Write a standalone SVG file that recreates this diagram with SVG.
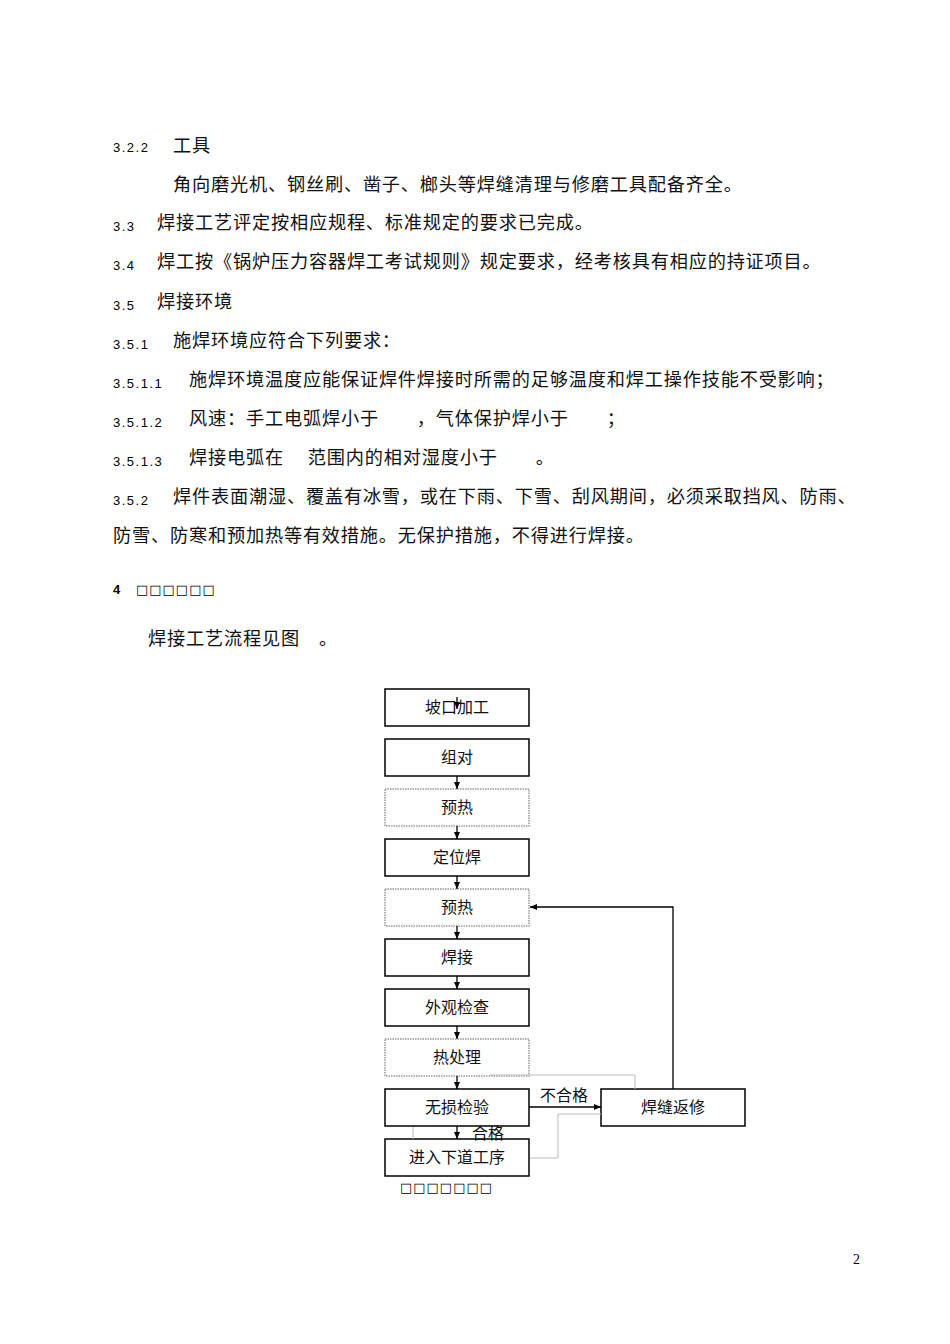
<svg xmlns="http://www.w3.org/2000/svg" width="950" height="1344" viewBox="0 0 950 1344">
<style>
.n{font-family:"Liberation Sans",sans-serif;font-size:13px;letter-spacing:1.5px}
.c{font-family:"Noto Sans CJK SC",sans-serif;font-size:18.2px;letter-spacing:0.8px;fill:#111}
.b{fill:#fff;stroke:#000;stroke-width:1.5}
.d{fill:#fff;stroke:#999;stroke-width:1.5;stroke-dasharray:1.5 1}
.t{font-family:"Noto Sans CJK SC",sans-serif;font-size:16px;text-anchor:middle;fill:#111}
.l{stroke:#000;stroke-width:1.3;fill:none}
.g{stroke:#bbb;stroke-width:1;fill:none}
</style>
<defs><marker id="a" markerWidth="8" markerHeight="8" refX="7" refY="4" orient="auto" markerUnits="userSpaceOnUse"><path d="M0,1 L7,4 L0,7 Z"/></marker></defs>
<rect width="950" height="1344" fill="#fff"/>
<text class="n" x="113" y="152">3.2.2</text><text class="c" x="173" y="152">工具</text>
<text class="c" x="173" y="191">角向磨光机、钢丝刷、凿子、榔头等焊缝清理与修磨工具配备齐全。</text>
<text class="n" x="113" y="231">3.3</text><text class="c" x="157" y="229">焊接工艺评定按相应规程、标准规定的要求已完成。</text>
<text class="n" x="113" y="270">3.4</text><text class="c" x="157" y="268">焊工按《锅炉压力容器焊工考试规则》规定要求，经考核具有相应的持证项目。</text>
<text class="n" x="113" y="310">3.5</text><text class="c" x="157" y="308">焊接环境</text>
<text class="n" x="113" y="349">3.5.1</text><text class="c" x="173" y="347">施焊环境应符合下列要求：</text>
<text class="n" x="113" y="388">3.5.1.1</text><text class="c" x="189" y="386">施焊环境温度应能保证焊件焊接时所需的足够温度和焊工操作技能不受影响；</text>
<text class="n" x="113" y="427">3.5.1.2</text><text class="c" x="189" y="425">风速：手工电弧焊小于　　，气体保护焊小于　　；</text>
<text class="n" x="113" y="466">3.5.1.3</text><text class="c" x="189" y="464">焊接电弧在　 范围内的相对湿度小于　　。</text>
<text class="n" x="113" y="505">3.5.2</text><text class="c" x="173" y="503">焊件表面潮湿、覆盖有冰雪，或在下雨、下雪、刮风期间，必须采取挡风、防雨、</text>
<text class="c" x="113" y="542">防雪、防寒和预加热等有效措施。无保护措施，不得进行焊接。</text>
<text class="n" x="113" y="594" style="font-weight:bold">4</text><text x="136" y="594" style="font-family:'DejaVu Sans',sans-serif;font-size:13px;letter-spacing:1px">□□□□□□</text>
<text class="c" x="148" y="645">焊接工艺流程见图　。</text>
<g id="n1"><rect class="b" x="385" y="689" width="144" height="37"/><text class="t" x="457" y="713">坡口加工</text></g>
<g id="n2"><rect class="b" x="385" y="739" width="144" height="37"/><text class="t" x="457" y="763">组对</text></g>
<g id="n3"><rect class="d" x="385" y="789" width="144" height="37"/><text class="t" x="457" y="813">预热</text></g>
<g id="n4"><rect class="b" x="385" y="839" width="144" height="37"/><text class="t" x="457" y="863">定位焊</text></g>
<g id="n5"><rect class="d" x="385" y="889" width="144" height="37"/><text class="t" x="457" y="913">预热</text></g>
<g id="n6"><rect class="b" x="385" y="939" width="144" height="37"/><text class="t" x="457" y="963">焊接</text></g>
<g id="n7"><rect class="b" x="385" y="989" width="144" height="37"/><text class="t" x="457" y="1013">外观检查</text></g>
<g id="n8"><rect class="d" x="385" y="1039" width="144" height="37"/><text class="t" x="457" y="1063">热处理</text></g>
<g id="n9"><rect class="b" x="385" y="1089" width="144" height="37"/><text class="t" x="457" y="1113">无损检验</text></g>
<g id="n10"><rect class="b" x="385" y="1139" width="144" height="37"/><text class="t" x="457" y="1163">进入下道工序</text></g>
<g id="n11"><rect class="b" x="601" y="1089" width="144" height="37"/><text class="t" x="673" y="1113">焊缝返修</text></g>
<g id="connectors">
<path class="g" d="M490,1076 V1075 H635 V1089"/>
<path class="g" d="M413,1127 V1139"/>
<path class="g" d="M530,1158 H558 V1114 H601"/>
<path class="l" d="M457,697 V709" marker-end="url(#a)"/>
<path class="l" d="M457,776 V789" marker-end="url(#a)"/>
<path class="l" d="M457,826 V839" marker-end="url(#a)"/>
<path class="l" d="M457,876 V889" marker-end="url(#a)"/>
<path class="l" d="M457,926 V939" marker-end="url(#a)"/>
<path class="l" d="M457,976 V989" marker-end="url(#a)"/>
<path class="l" d="M457,1026 V1039" marker-end="url(#a)"/>
<path class="l" d="M457,1076 V1089" marker-end="url(#a)"/>
<path class="l" d="M457,1126 V1139" marker-end="url(#a)"/>
<path class="l" d="M529,1107 H601" stroke-width="2" marker-end="url(#a)"/>
<path class="l" d="M673,1089 V907 H530" stroke-width="2" marker-end="url(#a)"/>
<text class="t" x="564" y="1101">不合格</text>
<text class="t" x="488" y="1139">合格</text>
</g>
<text x="400" y="1192" style="font-family:'DejaVu Sans',sans-serif;font-size:13px;letter-spacing:1px">□□□□□□□</text>
<text x="853" y="1264" style="font-family:'Liberation Serif',serif;font-size:14px">2</text>
</svg>
